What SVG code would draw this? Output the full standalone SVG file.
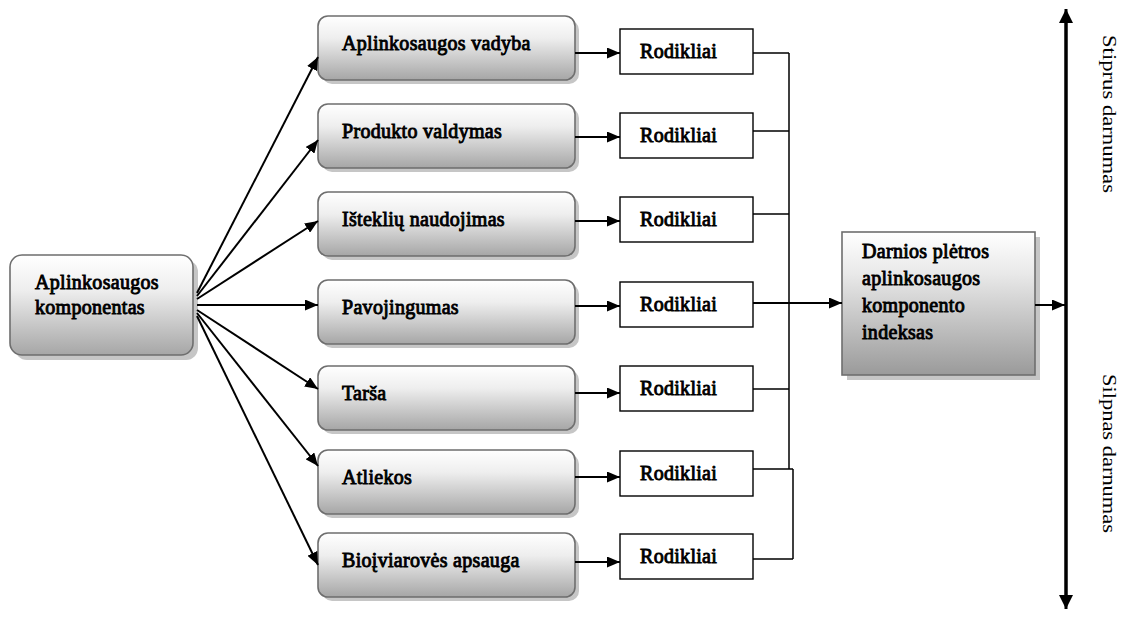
<svg xmlns="http://www.w3.org/2000/svg" width="1122" height="617" viewBox="0 0 1122 617">
  <defs>
    <linearGradient id="shade" x1="0" y1="0" x2="0" y2="1">
      <stop offset="0" stop-color="#ffffff"/>
      <stop offset="0.35" stop-color="#eeeeee"/>
      <stop offset="1" stop-color="#a6a6a6"/>
    </linearGradient>
    <linearGradient id="shadeBig" x1="0" y1="0" x2="0" y2="1">
      <stop offset="0" stop-color="#ffffff"/>
      <stop offset="0.3" stop-color="#e8e8e8"/>
      <stop offset="1" stop-color="#9a9a9a"/>
    </linearGradient>
    <marker id="arr" viewBox="0 0 13 11" refX="13" refY="5.5" markerWidth="13" markerHeight="11" markerUnits="userSpaceOnUse" orient="auto">
      <path d="M0,0 L13,5.5 L0,11 Z" fill="#000"/>
    </marker>
    <marker id="arrBig" viewBox="0 0 14 14" refX="14" refY="7" markerWidth="14" markerHeight="14" markerUnits="userSpaceOnUse" orient="auto">
      <path d="M0,0 L14,7 L0,14 Z" fill="#000"/>
    </marker>
  </defs>
  <style>
    .shadow { fill: #c6c6c6; }
    .rbox { fill: url(#shade); stroke: #6e6e6e; stroke-width: 1.6; }
    .ibox { fill: #ffffff; stroke: #000; stroke-width: 1.4; }
    /* heavy serif labels: regular face thickened with a thin outline */
    .lbl { font-family: "Liberation Serif", "Times New Roman", serif; font-weight: normal; font-size: 20px; letter-spacing: 0.3px; fill: #000; stroke: #000; stroke-width: 0.9px; }
    .side { font-family: "Liberation Serif", "Times New Roman", serif; font-size: 19px; fill: #000; }
    .fan { stroke: #000; stroke-width: 2; fill: none; marker-end: url(#arr); }
    .bus { stroke: #000; stroke-width: 1.5; fill: none; }
  </style>

  <!-- source node -->
  <g id="source">
    <rect class="shadow" x="15" y="260" width="183" height="100" rx="12"/>
    <rect class="rbox" x="10" y="255" width="183" height="100" rx="12"/>
    <text class="lbl" x="35" y="289">Aplinkosaugos</text>
    <text class="lbl" x="35" y="314">komponentas</text>
  </g>

  <!-- component nodes -->
  <g id="c1">
    <rect class="shadow" x="322" y="20" width="257" height="64" rx="10"/>
    <rect class="rbox" x="318" y="16" width="257" height="64" rx="10"/>
    <text class="lbl" x="342" y="50">Aplinkosaugos vadyba</text>
  </g>
  <g id="c2">
    <rect class="shadow" x="322" y="108" width="257" height="64" rx="10"/>
    <rect class="rbox" x="318" y="104" width="257" height="64" rx="10"/>
    <text class="lbl" x="342" y="138">Produkto valdymas</text>
  </g>
  <g id="c3">
    <rect class="shadow" x="322" y="196" width="257" height="64" rx="10"/>
    <rect class="rbox" x="318" y="192" width="257" height="64" rx="10"/>
    <text class="lbl" x="342" y="226">Išteklių naudojimas</text>
  </g>
  <g id="c4">
    <rect class="shadow" x="322" y="284" width="257" height="64" rx="10"/>
    <rect class="rbox" x="318" y="280" width="257" height="64" rx="10"/>
    <text class="lbl" x="342" y="314">Pavojingumas</text>
  </g>
  <g id="c5">
    <rect class="shadow" x="322" y="370" width="257" height="64" rx="10"/>
    <rect class="rbox" x="318" y="366" width="257" height="64" rx="10"/>
    <text class="lbl" x="342" y="400">Tarša</text>
  </g>
  <g id="c6">
    <rect class="shadow" x="322" y="454" width="257" height="64" rx="10"/>
    <rect class="rbox" x="318" y="450" width="257" height="64" rx="10"/>
    <text class="lbl" x="342" y="484">Atliekos</text>
  </g>
  <g id="c7">
    <rect class="shadow" x="322" y="537" width="257" height="64" rx="10"/>
    <rect class="rbox" x="318" y="533" width="257" height="64" rx="10"/>
    <text class="lbl" x="342" y="567">Bioįviarovės apsauga</text>
  </g>

  <!-- indicator nodes -->
  <g id="r1"><rect class="ibox" x="620" y="29" width="133" height="45"/><text class="lbl" x="640" y="58">Rodikliai</text></g>
  <g id="r2"><rect class="ibox" x="620" y="113" width="133" height="45"/><text class="lbl" x="640" y="142">Rodikliai</text></g>
  <g id="r3"><rect class="ibox" x="620" y="197" width="133" height="45"/><text class="lbl" x="640" y="226">Rodikliai</text></g>
  <g id="r4"><rect class="ibox" x="620" y="282" width="133" height="45"/><text class="lbl" x="640" y="311">Rodikliai</text></g>
  <g id="r5"><rect class="ibox" x="620" y="366" width="133" height="45"/><text class="lbl" x="640" y="395">Rodikliai</text></g>
  <g id="r6"><rect class="ibox" x="620" y="451" width="133" height="45"/><text class="lbl" x="640" y="480">Rodikliai</text></g>
  <g id="r7"><rect class="ibox" x="620" y="534" width="133" height="45"/><text class="lbl" x="640" y="563">Rodikliai</text></g>

  <!-- index node -->
  <g id="index">
    <rect class="shadow" x="847" y="237" width="193" height="143"/>
    <rect x="842" y="232" width="193" height="143" fill="url(#shadeBig)" stroke="#6e6e6e" stroke-width="1.6"/>
    <text class="lbl" x="862" y="258">Darnios plėtros</text>
    <text class="lbl" x="862" y="285">aplinkosaugos</text>
    <text class="lbl" x="862" y="312">komponento</text>
    <text class="lbl" x="862" y="339">indeksas</text>
  </g>

  <!-- sustainability scale -->
  <g id="scale">
    <line x1="1066" y1="598" x2="1066" y2="9" stroke="#000" stroke-width="3" marker-end="url(#arrBig)"/>
    <line x1="1066" y1="20" x2="1066" y2="609" stroke="#000" stroke-width="3" marker-end="url(#arrBig)"/>
    <text class="side" transform="translate(1103,35) rotate(90)" textLength="158" lengthAdjust="spacingAndGlyphs">Stiprus darnumas</text>
    <text class="side" transform="translate(1103,374) rotate(90)" textLength="159" lengthAdjust="spacingAndGlyphs">Silpnas darnumas</text>
  </g>

  <!-- connectors -->
  <g id="connectors">
    <!-- fan-out from the source node -->
    <path class="fan" d="M197,293 L318,57"/>
    <path class="fan" d="M197,296 L318,140"/>
    <path class="fan" d="M197,299 L318,221"/>
    <path class="fan" d="M197,305 L318,305"/>
    <path class="fan" d="M197,310 L318,389"/>
    <path class="fan" d="M197,313 L318,466"/>
    <path class="fan" d="M197,316 L318,565"/>

    <!-- components to indicators -->
    <path class="fan" d="M575,53 L620,53"/>
    <path class="fan" d="M575,137 L620,137"/>
    <path class="fan" d="M575,221 L620,221"/>
    <path class="fan" d="M575,306 L620,306"/>
    <path class="fan" d="M575,393 L620,393"/>
    <path class="fan" d="M575,477 L620,477"/>
    <path class="fan" d="M575,562 L620,562"/>

    <!-- indicators joined on a bus -->
    <path class="bus" d="M753,53 H789 M753,131 H789 M753,214 H789 M753,389 H789 M753,469 H793 M753,559 H793"/>
    <path class="bus" d="M789,53 V469 M793,469 V559"/>

    <!-- bus to index, index to scale -->
    <path class="fan" d="M753,303 L842,303"/>
    <path class="fan" d="M1035,305 L1065,305"/>
  </g>
</svg>
